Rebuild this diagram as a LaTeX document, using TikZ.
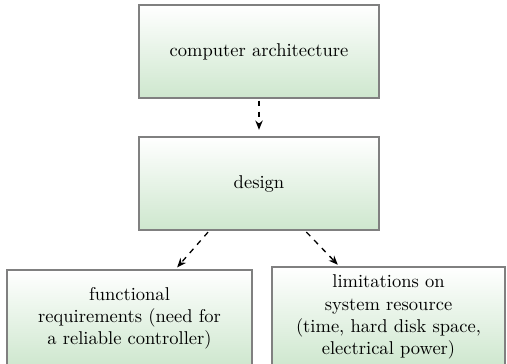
\documentclass[tikz,border=0pt]{standalone}
\usetikzlibrary{arrows.meta,calc}
\definecolor{boxgreen}{RGB}{206,231,206}
\definecolor{boxgray}{RGB}{128,128,128}
\begin{document}
\begin{tikzpicture}[x=0.54pt,y=-0.54pt,
  box/.style={draw=boxgray,line width=1pt,top color=white,bottom color=boxgreen,
    align=center,inner sep=2pt},
  conn/.style={dashed,line width=0.7pt,-{Stealth[length=5pt,width=4pt]}}]
\useasboundingbox (0,0) rectangle (507,363);
\node[box,minimum width=130pt,minimum height=50pt] (arch) at (259,51.5) {computer architecture};
\node[box,minimum width=130pt,minimum height=50pt] (design) at (259,183.5) {design};
\node[box,minimum width=132pt,minimum height=52pt] (func) at (129.5,318.5) {functional\\requirements (need for\\a reliable controller)};
\node[box,minimum width=126pt,minimum height=54pt] (lim) at (388.5,317) {limitations on\\system resource\\(time, hard disk space,\\electrical power)};
\draw[conn,shorten <=1pt,shorten >=3.5pt] (arch.south) -- (design.north);
\draw[conn,shorten <=1pt,shorten >=1.5pt] ($(design.south west)!0.295!(design.south east)$) -- ($(func.north west)!0.686!(func.north east)$);
\draw[conn,shorten <=1pt,shorten >=1pt] ($(design.south west)!0.69!(design.south east)$) -- ($(lim.north west)!0.29!(lim.north east)$);
\end{tikzpicture}
\end{document}
